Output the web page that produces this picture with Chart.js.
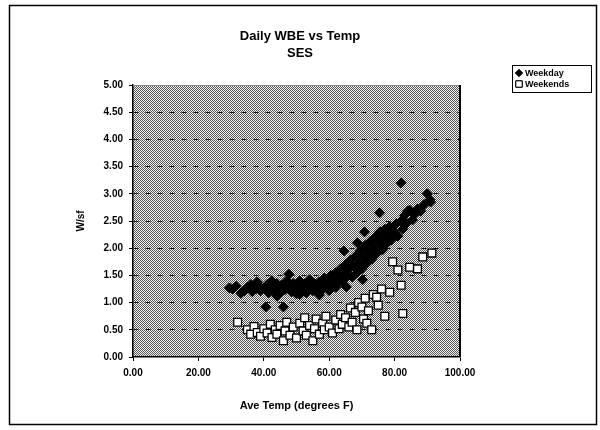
<!DOCTYPE html>
<html>
<head>
<meta charset="utf-8">
<script src="https://cdn.jsdelivr.net/npm/chart.js@4/dist/chart.umd.min.js"></script>
<style>
  html, body { margin: 0; padding: 0; background: #fff; }
  #wrap { width: 600px; height: 430px; }
</style>
</head>
<body>
<div id="wrap"><canvas id="c" width="600" height="430"></canvas></div>
<script>
// Daily whole-building energy (W/sf) against average outdoor temperature, SES
const titleLines = ['Daily WBE vs Temp', 'SES'];
const seriesNames = ['Weekday', 'Weekends'];
const xTicks = [0, 20, 40, 60, 80, 100];
const yTicks = [0, 0.5, 1, 1.5, 2, 2.5, 3, 3.5, 4, 4.5, 5];

const weekdayTemp = [29.5,30.5,31.5,33,34,35,36,36.5,37.5,38,38.5,39,40,40.6,41,41.5,42,42.5,43,43.5,44,44.5,45,45.5,46,46.5,47,47.7,48,48.5,49,49.5,50,50.5,51,51.5,52,52.5,53,53.5,54,54.5,55,55.5,56,56.5,57,57.5,58,58.5,59,59.5,60,60.5,61,61.5,62,62.5,63,63.5,64,64.5,65,65.2,65.5,66,66.5,67,67.5,68,68.5,69,69.5,70,70.2,70.5,71,71.5,72,72.5,73,73.5,74,74.5,75,75.4,75.5,76,76.3,76.5,77,77.5,78,78.5,79,79.5,80,80.5,81,82,82,82.5,83,83.7,84,84.6,85.5,86,87,88,89,90,90.8,91,64.5,68.6,70.8,44,51,57,60,62];
const weekdayWbe  = [1.27,1.25,1.30,1.17,1.22,1.28,1.33,1.20,1.25,1.38,1.30,1.22,1.27,0.92,1.33,1.18,1.25,1.40,1.30,1.21,1.35,1.26,1.18,1.32,0.92,1.24,1.40,1.52,1.29,1.20,1.35,1.24,1.16,1.30,1.40,1.22,1.28,1.34,1.18,1.25,1.42,1.30,1.22,1.35,1.27,1.19,1.38,1.30,1.24,1.45,1.33,1.26,1.38,1.50,1.30,1.42,1.55,1.35,1.48,1.62,1.40,1.55,1.70,1.29,1.48,1.62,1.78,1.47,1.66,1.85,1.55,1.72,1.95,1.62,1.42,1.82,2.05,1.72,1.92,2.12,1.80,2.00,2.20,1.90,2.10,2.65,2.30,1.98,1.97,2.18,2.35,2.08,2.25,2.40,2.15,2.32,2.28,2.45,2.22,3.20,2.50,2.35,2.60,2.46,2.68,2.70,2.52,2.62,2.72,2.68,2.80,3.00,2.89,2.85,1.95,2.10,2.30,1.12,1.15,1.14,1.22,1.28];

const weekendTemp = [32,35,36,37,38,39,40,41,42,42.5,43.5,44,45,46,46.5,47,48,49,50,51,52,52.5,53,54,55,55.5,56,57,58,58.5,59,60,61,62,63,63.5,64,65,66,66.5,67,68,68.5,69,70,70.5,71,71.5,72,73,73.5,74.5,75,76,77,78.5,79.4,81,82,82.5,84.6,87,88.6,91.4];
const weekendWbe  = [0.64,0.50,0.42,0.56,0.45,0.38,0.52,0.44,0.60,0.36,0.50,0.42,0.58,0.30,0.48,0.64,0.40,0.55,0.35,0.62,0.48,0.72,0.40,0.58,0.30,0.52,0.70,0.42,0.62,0.50,0.75,0.55,0.44,0.68,0.52,0.78,0.60,0.72,0.55,0.90,0.64,0.82,0.50,1.00,0.92,0.70,1.08,0.62,0.85,0.50,1.15,1.10,0.95,1.25,0.75,1.19,1.75,1.60,1.32,0.80,1.65,1.62,1.84,1.91];

const toPoints = (xs, ys) => xs.map((x, i) => ({ x: x, y: ys[i] }));

const FONT = '"Liberation Sans", Arial, sans-serif';

// 1px checker fill for the plot area
function makeDither(ctx) {
  const t = document.createElement('canvas');
  t.width = 2; t.height = 2;
  const g = t.getContext('2d');
  g.fillStyle = '#f4f4f4'; g.fillRect(0, 0, 2, 2);
  g.fillStyle = '#555555'; g.fillRect(0, 0, 1, 1); g.fillRect(1, 1, 1, 1);
  return ctx.createPattern(t, 'repeat');
}

const framePlugin = {
  id: 'frame',
  beforeDraw(chart) {
    const { ctx, chartArea: a } = chart;
    ctx.save();
    ctx.fillStyle = '#fff';
    ctx.fillRect(0, 0, chart.width, chart.height);
    ctx.fillStyle = makeDither(ctx);
    ctx.fillRect(a.left, a.top, a.right - a.left, a.bottom - a.top);
    ctx.restore();
  },
  afterDraw(chart) {
    const { ctx, chartArea: a } = chart;
    ctx.save();
    // outer frame
    ctx.strokeStyle = '#000';
    ctx.lineWidth = 1.5;
    ctx.strokeRect(9.5, 5.5, 587, 419);
    // plot border
    ctx.lineWidth = 1;
    ctx.strokeStyle = '#888';
    ctx.beginPath(); ctx.moveTo(a.left, a.top + 0.5); ctx.lineTo(a.right, a.top + 0.5); ctx.stroke();
    ctx.strokeStyle = '#000';
    ctx.lineWidth = 2;
    ctx.beginPath(); ctx.moveTo(a.right, a.top); ctx.lineTo(a.right, a.bottom); ctx.stroke();

    // titles
    ctx.fillStyle = '#000';
    ctx.textAlign = 'center';
    ctx.textBaseline = 'middle';
    ctx.font = 'bold 13px ' + FONT;
    ctx.fillText(titleLines[0], 300, 36);
    ctx.fillText(titleLines[1], 300, 53);

    // legend
    const lx = 512, ly = 65, lw = 79, lh = 27;
    ctx.fillStyle = '#fff';
    ctx.fillRect(lx, ly, lw, lh);
    ctx.strokeStyle = '#000';
    ctx.lineWidth = 1;
    ctx.strokeRect(lx + 0.5, ly + 0.5, lw, lh);
    ctx.font = 'bold 9px ' + FONT;
    ctx.textAlign = 'left';
    chart.data.datasets.forEach((ds, i) => {
      const cy = ly + 8 + i * 11;
      Chart.helpers.drawPoint(ctx, {
        pointStyle: ds.pointStyle,
        radius: i === 0 ? 3.5 : 4.5,
        borderWidth: 1
      }, lx + 7, cy);
      ctx.fillStyle = ds.backgroundColor;
      ctx.strokeStyle = '#000';
      ctx.fill(); ctx.stroke();
      ctx.fillStyle = '#000';
      ctx.fillText(ds.label, lx + 13, cy + 0.5);
    });
    ctx.restore();
  }
};

new Chart(document.getElementById('c'), {
  type: 'scatter',
  data: {
    datasets: [
      {
        label: seriesNames[0],
        data: toPoints(weekdayTemp, weekdayWbe),
        pointStyle: 'rectRot',
        radius: 5,
        backgroundColor: '#000',
        borderColor: '#000',
        borderWidth: 1
      },
      {
        label: seriesNames[1],
        data: toPoints(weekendTemp, weekendWbe),
        pointStyle: 'rect',
        radius: 5.5,
        backgroundColor: '#fff',
        borderColor: '#000',
        borderWidth: 1.3
      }
    ]
  },
  options: {
    responsive: false,
    animation: false,
    events: [],
    layout: { padding: { left: 75, right: 140, top: 85, bottom: 15 } },
    plugins: {
      legend: { display: false },
      title: { display: false },
      tooltip: { enabled: false }
    },
    scales: {
      x: {
        type: 'linear',
        min: 0, max: 100,
        afterFit(s) { s.height = 58; },
        afterBuildTicks(s) { s.ticks = xTicks.map(v => ({ value: v })); },
        border: { display: true, color: '#000', width: 1.5 },
        grid: { drawOnChartArea: false, drawTicks: true, tickLength: 4, tickColor: '#000' },
        ticks: {
          color: '#000', padding: 6, maxRotation: 0,
          font: { family: FONT, size: 10, weight: 'bold' },
          callback: v => Number(v).toFixed(2)
        },
        title: {
          display: true, text: 'Ave Temp (degrees F)', color: '#000',
          font: { family: FONT, size: 11, weight: 'bold' }, padding: { top: 4, bottom: 2 }
        }
      },
      y: {
        type: 'linear',
        min: 0, max: 5,
        afterFit(s) { s.width = 58; },
        afterBuildTicks(s) { s.ticks = yTicks.map(v => ({ value: v })); },
        border: { display: true, color: '#000', width: 1.5, dash: [5, 7] },
        grid: {
          drawOnChartArea: true, drawTicks: true, tickLength: 4,
          tickColor: '#000',
          color: c => (c.tick && c.tick.value > 0 && c.tick.value < 5) ? '#111' : 'rgba(0,0,0,0)',
          lineWidth: 1
        },
        ticks: {
          color: '#000', padding: 6,
          font: { family: FONT, size: 10, weight: 'bold' },
          callback: v => Number(v).toFixed(2)
        },
        title: {
          display: true, text: 'W/sf', color: '#000',
          font: { family: FONT, size: 10, weight: 'bold' }, padding: { top: 0, bottom: 4 }
        }
      }
    }
  },
  plugins: [framePlugin]
});
</script>
</body>
</html>
